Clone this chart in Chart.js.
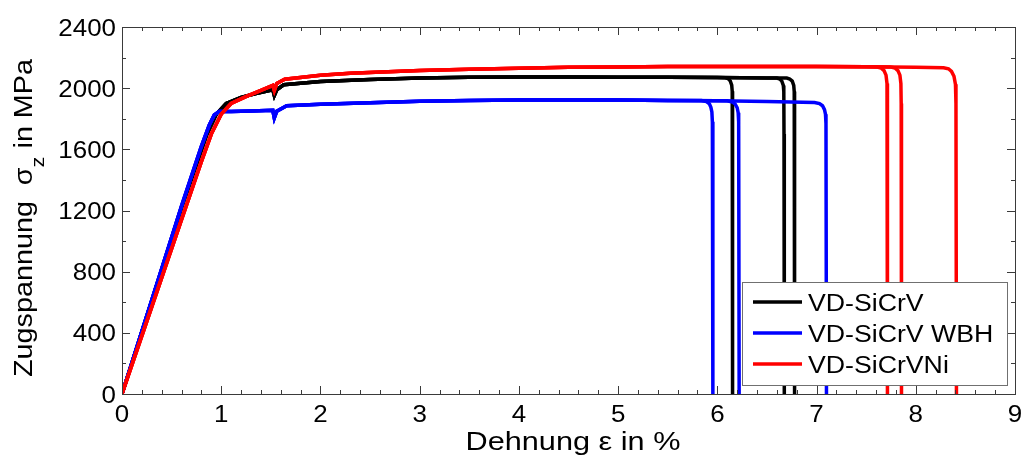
<!DOCTYPE html>
<html>
<head>
<meta charset="utf-8">
<script src="https://cdn.jsdelivr.net/npm/chart.js@4.4.1/dist/chart.umd.min.js"></script>
<style>
    html, body { margin: 0; padding: 0; background: #fff; }
    #wrap { width: 1024px; height: 455px; }
</style>
</head>
<body>
<div id="wrap"><canvas id="stressChart" width="1024" height="455"></canvas></div>
<script>
// Tick labels
const xTicks = [0, 1, 2, 3, 4, 5, 6, 7, 8, 9];
const yTicks = [0, 400, 800, 1200, 1600, 2000, 2400];

// Legend names
const seriesNames = ['VD-SiCrV', 'VD-SiCrV WBH', 'VD-SiCrVNi'];
const seriesColors = ['#000000', '#0000ff', '#ff0000'];

// VD-SiCrV common curve (strain %, stress MPa)
const blackStrain = [0, 0.3, 0.6, 0.85, 0.95, 1.05, 1.2, 1.35, 1.52, 1.535, 1.56, 1.63, 2.0, 2.5, 3.0, 3.5, 4.0, 4.5, 5.0, 5.5, 6.0, 6.5];
const blackStress = [0, 610, 1220, 1690, 1830, 1900, 1940, 1965, 1990, 1952, 1990, 2022, 2044, 2057, 2066, 2071, 2073, 2073, 2072, 2071, 2069, 2067];
// fracture ends of the three specimens
const blackEndA = { strain: [6.08, 6.11, 6.13, 6.145, 6.15, 6.152, 6.155], stress: [2068, 2062, 2048, 2020, 1980, 1700, 0] };
const blackEndB = { strain: [6.6, 6.63, 6.65, 6.665, 6.67, 6.672, 6.675], stress: [2066, 2060, 2046, 2018, 1978, 1700, 0] };
const blackEndC = { strain: [6.7, 6.73, 6.755, 6.77, 6.775, 6.777, 6.78], stress: [2066, 2060, 2046, 2018, 1978, 1700, 0] };

// VD-SiCrV WBH
const blueStrain = [0, 0.3, 0.6, 0.8, 0.88, 0.93, 0.98, 1.1, 1.3, 1.52, 1.535, 1.56, 1.66, 2.0, 2.5, 3.0, 3.5, 4.0, 4.5, 5.0, 5.5, 6.0, 6.5, 7.0];
const blueStress = [0, 615, 1230, 1620, 1760, 1825, 1848, 1848, 1850, 1855, 1805, 1850, 1885, 1895, 1905, 1915, 1920, 1923, 1923, 1922, 1920, 1917, 1912, 1906];
const blueEndA = { strain: [5.84, 5.89, 5.92, 5.935, 5.945, 5.95, 5.955], stress: [1919, 1912, 1898, 1875, 1845, 1780, 0] };
const blueEndB = { strain: [6.1, 6.15, 6.18, 6.2, 6.21, 6.215, 6.22], stress: [1917, 1910, 1896, 1872, 1840, 1780, 0] };
const blueEndC = { strain: [6.98, 7.03, 7.06, 7.08, 7.09, 7.095, 7.1], stress: [1906, 1899, 1885, 1860, 1830, 1770, 0] };

// VD-SiCrVNi
const redStrain = [0, 0.3, 0.6, 0.8, 0.9, 1.0, 1.1, 1.26, 1.4, 1.52, 1.535, 1.56, 1.64, 2.0, 2.3, 3.0, 3.5, 4.0, 4.5, 5.0, 5.5, 6.0, 6.5, 7.0, 7.5, 8.0];
const redStress = [0, 570, 1140, 1520, 1700, 1830, 1900, 1948, 1985, 2018, 1985, 2030, 2058, 2085, 2097, 2115, 2124, 2131, 2136, 2139, 2141, 2142, 2142, 2141, 2140, 2137];
const redEndA = { strain: [7.6, 7.65, 7.68, 7.7, 7.71, 7.713, 7.716], stress: [2139, 2132, 2115, 2085, 2030, 1900, 0] };
const redEndB = { strain: [7.74, 7.79, 7.82, 7.84, 7.85, 7.853, 7.856], stress: [2139, 2132, 2115, 2085, 2030, 1900, 0] };
const redEndC = { strain: [8.28, 8.33, 8.36, 8.385, 8.4, 8.405, 8.41], stress: [2134, 2127, 2110, 2078, 2025, 1900, 0] };

// Build one specimen: common curve up to where its end begins, then the end
function specimen(strain, stress, end) {
    const pts = [];
    for (let i = 0; i < strain.length; i++) {
        if (strain[i] < end.strain[0]) pts.push({ x: strain[i], y: stress[i] });
    }
    for (let i = 0; i < end.strain.length; i++) {
        pts.push({ x: end.strain[i], y: end.stress[i] });
    }
    return pts;
}

function lineSet(points, color, order) {
    return {
        data: points,
        borderColor: color,
        borderWidth: 3.5,
        pointRadius: 0,
        showLine: true,
        fill: false,
        tension: 0,
        order: order
    };
}

const TEXT_STRETCH = 1.15;

function drawText(ctx, text, x, y, align, font, sx) {
    ctx.save();
    ctx.font = font;
    ctx.translate(x, y);
    ctx.scale(sx, 1);
    ctx.textAlign = align;
    ctx.textBaseline = 'alphabetic';
    ctx.fillStyle = '#000';
    ctx.fillText(text, 0, 0);
    ctx.restore();
}

// Matlab-like box axes, inward ticks, labels and legend
const axesPlugin = {
    id: 'matlabAxes',
    afterDraw(chart) {
        const ctx = chart.ctx;
        const a = chart.chartArea;
        const xs = chart.scales.x;
        const ys = chart.scales.y;

        ctx.save();
        ctx.strokeStyle = '#3a3a3a';
        ctx.lineWidth = 1;
        ctx.strokeRect(Math.round(a.left) + 0.5, Math.round(a.top) + 0.5,
            Math.round(a.right - a.left), Math.round(a.bottom - a.top));

        ctx.beginPath();
        // x ticks (minor every 0.2)
        for (let v = 0; v <= 9.0001; v += 0.2) {
            const px = Math.round(xs.getPixelForValue(v)) + 0.5;
            const major = Math.abs(v - Math.round(v)) < 1e-6;
            const len = major ? 8 : 4;
            ctx.moveTo(px, a.bottom); ctx.lineTo(px, a.bottom - len);
            ctx.moveTo(px, a.top); ctx.lineTo(px, a.top + len);
        }
        // y ticks (minor every 200)
        for (let v = 0; v <= 2400; v += 200) {
            const py = Math.round(ys.getPixelForValue(v)) + 0.5;
            const len = (v % 400 === 0) ? 8 : 4;
            ctx.moveTo(a.left, py); ctx.lineTo(a.left + len, py);
            ctx.moveTo(a.right, py); ctx.lineTo(a.right - len, py);
        }
        ctx.stroke();
        ctx.restore();

        const tickFont = '24px "Liberation Sans", Arial, sans-serif';
        xTicks.forEach(v => {
            drawText(ctx, String(v), xs.getPixelForValue(v), 422, 'center', tickFont, 1.08);
        });
        yTicks.forEach(v => {
            drawText(ctx, String(v), a.left - 6, ys.getPixelForValue(v) + 8.5, 'right', tickFont, 1.08);
        });

        // x title
        drawText(ctx, 'Dehnung \u03b5 in %', 573, 450, 'center', '26px "Liberation Sans", Arial, sans-serif', 1.18);

        // y title with subscript
        ctx.save();
        ctx.translate(32, 218);
        ctx.rotate(-Math.PI / 2);
        ctx.scale(TEXT_STRETCH, 1);
        ctx.fillStyle = '#000';
        ctx.textBaseline = 'alphabetic';
        const bigFont = '25px "Liberation Sans", Arial, sans-serif';
        const subFont = '19px "Liberation Sans", Arial, sans-serif';
        const part1 = 'Zugspannung  \u03c3';
        const part2 = 'z';
        const part3 = ' in MPa';
        ctx.font = bigFont;
        const w1 = ctx.measureText(part1).width;
        const w3 = ctx.measureText(part3).width;
        ctx.font = subFont;
        const w2 = ctx.measureText(part2).width;
        let cx = -(w1 + w2 + w3) / 2;
        ctx.textAlign = 'left';
        ctx.font = bigFont;
        ctx.fillText(part1, cx, 0);
        cx += w1;
        ctx.font = subFont;
        ctx.fillText(part2, cx, 12);
        cx += w2;
        ctx.font = bigFont;
        ctx.fillText(part3, cx, 0);
        ctx.restore();

        // legend
        ctx.save();
        ctx.fillStyle = '#fff';
        ctx.fillRect(742, 282, 265, 103);
        ctx.strokeStyle = '#707070';
        ctx.lineWidth = 1;
        ctx.strokeRect(742.5, 282.5, 265, 103);
        const rows = [302, 333, 364];
        seriesNames.forEach((name, i) => {
            ctx.beginPath();
            ctx.strokeStyle = seriesColors[i];
            ctx.lineWidth = 3.5;
            ctx.moveTo(753, rows[i]);
            ctx.lineTo(802, rows[i]);
            ctx.stroke();
            drawText(ctx, name, 808, rows[i] + 8.5, 'left', '23px "Liberation Sans", Arial, sans-serif', 1.16);
        });
        ctx.restore();
    }
};

const ctx = document.getElementById('stressChart').getContext('2d');
new Chart(ctx, {
    type: 'scatter',
    data: {
        datasets: [
            lineSet(specimen(blackStrain, blackStress, blackEndA), seriesColors[0], 3),
            lineSet(specimen(blackStrain, blackStress, blackEndB), seriesColors[0], 3),
            lineSet(specimen(blackStrain, blackStress, blackEndC), seriesColors[0], 3),
            lineSet(specimen(blueStrain, blueStress, blueEndA), seriesColors[1], 2),
            lineSet(specimen(blueStrain, blueStress, blueEndB), seriesColors[1], 2),
            lineSet(specimen(blueStrain, blueStress, blueEndC), seriesColors[1], 2),
            lineSet(specimen(redStrain, redStress, redEndA), seriesColors[2], 1),
            lineSet(specimen(redStrain, redStress, redEndB), seriesColors[2], 1),
            lineSet(specimen(redStrain, redStress, redEndC), seriesColors[2], 1)
        ]
    },
    options: {
        responsive: false,
        animation: false,
        layout: {
            padding: { left: 122, top: 27, right: 9, bottom: 61 }
        },
        plugins: {
            legend: { display: false },
            tooltip: { enabled: false }
        },
        scales: {
            x: { type: 'linear', min: 0, max: 9, display: false },
            y: { type: 'linear', min: 0, max: 2400, display: false }
        }
    },
    plugins: [axesPlugin]
});
</script>
</body>
</html>
